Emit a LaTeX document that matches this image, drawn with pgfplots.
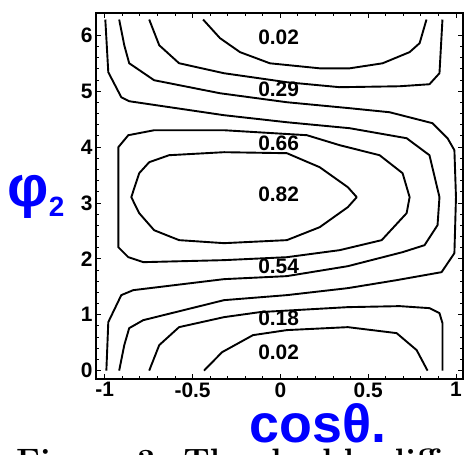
\documentclass[border=0pt]{standalone}
\usepackage{fontspec}
\setsansfont{Liberation Sans}
\usepackage{pgfplots}
\pgfplotsset{compat=1.18}
\tikzset{cl/.style={black, solid, line width=1.9bp, line join=round, mark=none}}
\begin{document}
\begin{tikzpicture}
\useasboundingbox (0,0) rectangle (466bp,455bp);
\begin{scope}
\clip (0,0) rectangle (466bp,455bp);
\node[anchor=base west, inner sep=0pt] at (16bp,-17bp) {\rmfamily\bfseries\fontsize{34}{34}\selectfont Figure 3: The double differential};
\end{scope}
\begin{axis}[
  at={(96bp,76bp)}, anchor=south west,
  scale only axis, width=367bp, height=366bp,
  xmin=-1.05, xmax=1.04, ymin=-0.15, ymax=6.4,
  xtick={-1,-0.5,0,0.5,1}, xticklabels={-1,-0.5,0,0.5,1},
  ytick={0,1,2,3,4,5,6}, yticklabels={0,1,2,3,4,5,6},
  minor x tick num=4, minor y tick num=4,
  tick align=inside,
  major tick length=5bp, minor tick length=3bp,
  tick style={black, line width=0.9bp},
  axis line style={line width=1.9bp},
  tick label style={font=\sffamily\bfseries\fontsize{21}{24}\selectfont},
  /pgf/number format/assume math mode=true,
  clip=false,
]
% top U loops
\addplot[cl] coordinates {(-0.44,6.283) (-0.344,5.95) (-0.23,5.70) (-0.06,5.50) (0.224,5.41) (0.395,5.41) (0.582,5.50) (0.736,5.70) (0.793,5.86) (0.832,6.283)};
\addplot[cl] coordinates {(-0.747,6.283) (-0.69,5.823) (-0.577,5.501) (-0.321,5.322) (0.037,5.161) (0.338,5.072) (0.679,5.089) (0.849,5.125) (0.906,5.322) (0.923,6.283)};
% outer bracket-shaped lines
\addplot[cl] coordinates {(-0.918,6.283) (-0.889,5.823) (-0.861,5.501) (-0.719,5.197) (-0.344,4.964) (0.037,4.803) (0.395,4.696) (0.622,4.624) (0.866,4.428) (0.952,4.159) (0.991,3.945) (1.0,3.104) (0.991,2.102) (0.918,1.762) (0.662,1.619) (0.384,1.476) (0.037,1.351) (-0.321,1.261) (-0.781,0.903) (-0.861,0.760) (-0.889,0.456) (-0.918,0)};
\addplot[cl] coordinates {(-0.997,6.283) (-0.980,5.340) (-0.906,4.893) (-0.861,4.821) (-0.321,4.571) (0.037,4.445) (0.395,4.338) (0.719,4.159) (0.849,3.855) (0.906,3.104) (0.895,2.603) (0.821,2.245) (0.696,2.120) (0.384,1.869) (0.037,1.691) (-0.321,1.637) (-0.838,1.440) (-0.906,1.351) (-0.980,0.868) (-0.991,0)};
% closed loops
\addplot[cl] coordinates {(-0.321,4.302) (-0.719,4.302) (-0.866,4.213) (-0.923,3.998) (-0.923,3.104) (-0.923,2.209) (-0.866,2.030) (-0.781,1.941) (-0.321,1.977) (0.037,2.030) (0.338,2.156) (0.577,2.335) (0.719,2.818) (0.736,3.104) (0.696,3.533) (0.565,3.855) (0.338,4.034) (0.151,4.213) (-0.321,4.302)};
\addplot[cl] coordinates {(-0.321,3.909) (-0.634,3.855) (-0.747,3.730) (-0.804,3.533) (-0.849,3.104) (-0.804,2.818) (-0.719,2.513) (-0.577,2.335) (-0.321,2.281) (0.037,2.335) (0.224,2.567) (0.384,2.925) (0.435,3.104) (0.384,3.283) (0.224,3.640) (0.037,3.891) (-0.321,3.909)};
% bottom loops
\addplot[cl] coordinates {(-0.747,0) (-0.69,0.456) (-0.577,0.778) (-0.321,0.957) (-0.116,1.047) (0.384,1.136) (0.679,1.154) (0.849,1.118) (0.906,1.029) (0.923,0.850) (0.923,0)};
\addplot[cl] coordinates {(-0.435,0) (-0.332,0.33) (-0.156,0.635) (0.037,0.725) (0.384,0.778) (0.662,0.671) (0.776,0.367) (0.838,0)};
% labels
\begin{scope}[every node/.style={font=\sffamily\bfseries\fontsize{21}{24}\selectfont, inner sep=0pt}]
\node at (axis cs:-0.01,5.96) {0.02};
\node at (axis cs:-0.01,5.03) {0.29};
\node at (axis cs:-0.01,4.06) {0.66};
\node at (axis cs:-0.01,3.15) {0.82};
\node at (axis cs:-0.01,1.87) {0.54};
\node at (axis cs:-0.01,0.94) {0.18};
\node at (axis cs:-0.01,0.33) {0.02};
\end{scope}
\end{axis}
\node[text=blue, inner sep=0pt] at (36bp,258bp) {\sffamily\bfseries\fontsize{58}{58}\selectfont φ\raisebox{-10bp}{\fontsize{28}{28}\selectfont 2}};
\node[text=blue, inner sep=0pt] at (318bp,32bp) {\sffamily\bfseries\fontsize{54}{54}\selectfont cosθ.};
\end{tikzpicture}
\end{document}
